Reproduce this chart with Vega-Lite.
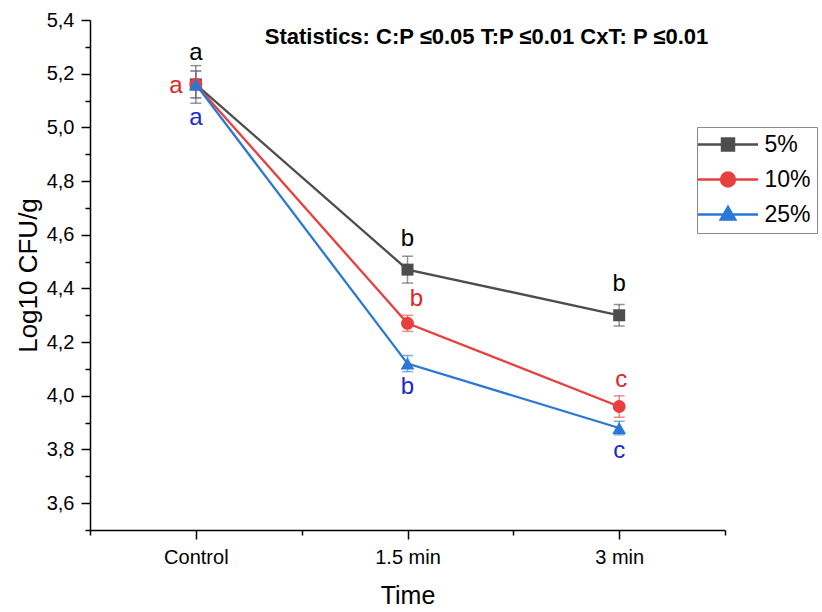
{
  "$schema": "https://vega.github.io/schema/vega-lite/v6.json",
  "width": 635,
  "height": 510,
  "autosize": {"type": "none"},
  "padding": {"left": 90, "top": 20, "right": 97, "bottom": 82},
  "background": "white",
  "config": {
    "view": {"stroke": null},
    "font": "Liberation Sans",
    "axis": {
      "domainColor": "#000000",
      "domainWidth": 1.5,
      "tickColor": "#000000",
      "tickWidth": 1.5,
      "grid": false,
      "labelFont": "Liberation Sans",
      "labelFontSize": 20,
      "labelColor": "#000000",
      "labelOverlap": false,
      "labelFlush": false,
      "titleFont": "Liberation Sans",
      "titleFontWeight": "normal",
      "titleColor": "#000000"
    }
  },
  "title": {
    "text": "Statistics: C:P ≤0.05 T:P ≤0.01 CxT: P ≤0.01",
    "anchor": "middle",
    "frame": "group",
    "dx": 79,
    "dy": 56,
    "offset": 0,
    "baseline": "alphabetic",
    "font": "Liberation Sans",
    "fontSize": 22,
    "fontWeight": "bold",
    "color": "#000000"
  },
  "data": {
    "values": [
      {"conc": "5%", "min": 0, "time": "Control", "mean": 5.16, "sd": 0.07, "letter": "a"},
      {"conc": "5%", "min": 1.5, "time": "1.5 min", "mean": 4.47, "sd": 0.05, "letter": "b"},
      {"conc": "5%", "min": 3, "time": "3 min", "mean": 4.30, "sd": 0.04, "letter": "b"},
      {"conc": "10%", "min": 0, "time": "Control", "mean": 5.16, "sd": 0.05, "letter": "a"},
      {"conc": "10%", "min": 1.5, "time": "1.5 min", "mean": 4.27, "sd": 0.03, "letter": "b"},
      {"conc": "10%", "min": 3, "time": "3 min", "mean": 3.96, "sd": 0.04, "letter": "c"},
      {"conc": "25%", "min": 0, "time": "Control", "mean": 5.16, "sd": 0.05, "letter": "a"},
      {"conc": "25%", "min": 1.5, "time": "1.5 min", "mean": 4.12, "sd": 0.03, "letter": "b"},
      {"conc": "25%", "min": 3, "time": "3 min", "mean": 3.88, "sd": 0.025, "letter": "c"}
    ]
  },
  "encoding": {
    "x": {
      "field": "min",
      "type": "quantitative",
      "scale": {"domain": [-0.75, 3.75], "nice": false, "zero": false},
      "axis": {
        "title": "Time",
        "titleFontSize": 25,
        "titlePadding": 16,
        "labelFontSize": 20,
        "values": [-0.75, 0, 0.75, 1.5, 2.25, 3, 3.75],
        "labelExpr": "datum.value == 0 ? 'Control' : datum.value == 1.5 ? '1.5 min' : datum.value == 3 ? '3 min' : ''",
        "labelPadding": 8,
        "tickSize": {"condition": {"test": "datum.value == 0 || datum.value == 1.5 || datum.value == 3", "value": 9}, "value": 5}
      }
    },
    "y": {
      "field": "mean",
      "type": "quantitative",
      "scale": {"domain": [3.5, 5.4], "nice": false, "zero": false},
      "axis": {
        "title": "Log10 CFU/g",
        "titleFontSize": 26,
        "titlePadding": 5,
        "labelFontSize": 20,
        "values": [3.5, 3.6, 3.7, 3.8, 3.9, 4.0, 4.1, 4.2, 4.3, 4.4, 4.5, 4.6, 4.7, 4.8, 4.9, 5.0, 5.1, 5.2, 5.3, 5.4],
        "labelExpr": "round(datum.value * 10) % 2 == 0 ? replace(format(datum.value, '.1f'), '.', ',') : ''",
        "labelPadding": 7,
        "tickSize": {"condition": {"test": "round(datum.value * 10) % 2 == 0", "value": 9}, "value": 5}
      }
    }
  },
  "layer": [
    {
      "mark": {"type": "errorbar", "ticks": true, "size": 11, "thickness": 1.5, "opacity": 0.6},
      "encoding": {
        "yError": {"field": "sd"},
        "color": {"field": "conc", "type": "nominal", "scale": {"domain": ["5%", "10%", "25%"], "range": ["#4d4d4d", "#e8403e", "#2a78d6"]}, "legend": null}
      }
    },
    {
      "mark": {"type": "line", "strokeWidth": 2.3},
      "encoding": {
        "color": {"field": "conc", "type": "nominal", "scale": {"domain": ["5%", "10%", "25%"], "range": ["#4d4d4d", "#e8403e", "#2a78d6"]}, "legend": null},
        "order": {"field": "min", "type": "quantitative"}
      }
    },
    {
      "mark": {"type": "point", "filled": true, "opacity": 1},
      "encoding": {
        "color": {"field": "conc", "type": "nominal", "scale": {"domain": ["5%", "10%", "25%"], "range": ["#4d4d4d", "#e8403e", "#2a78d6"]}, "legend": null},
        "shape": {"field": "conc", "type": "nominal", "scale": {"domain": ["5%", "10%", "25%"], "range": ["square", "circle", "triangle-up"]}, "legend": null},
        "size": {"field": "conc", "type": "nominal", "scale": {"domain": ["5%", "10%", "25%"], "range": [144, 190, 190]}, "legend": null}
      }
    },
    {
      "transform": [{"filter": "false"}],
      "mark": {"type": "point", "filled": true, "opacity": 1, "strokeWidth": 2.5},
      "encoding": {
        "color": {"field": "conc", "type": "nominal", "scale": {"domain": ["5%", "10%", "25%"], "range": ["#4d4d4d", "#e8403e", "#2a78d6"]},
          "legend": {"title": null, "orient": "none", "legendX": 607, "legendY": 107, "strokeColor": "#8a8a8a", "fillColor": "white", "padding": 6, "rowPadding": 10, "symbolSize": 144, "symbolStrokeWidth": 2.5, "symbolOpacity": 1, "symbolOffset": 13.5, "labelOffset": 25, "labelFontSize": 23, "labelFont": "Liberation Sans", "labelColor": "#000000", "labelLimit": 200}},
        "stroke": {"field": "conc", "type": "nominal", "scale": {"domain": ["5%", "10%", "25%"], "range": ["#4d4d4d", "#e8403e", "#2a78d6"]},
          "legend": {"title": null, "orient": "none", "legendX": 607, "legendY": 107, "strokeColor": "#8a8a8a", "fillColor": "white", "padding": 6, "rowPadding": 10, "symbolSize": 144, "symbolStrokeWidth": 2.5, "symbolOpacity": 1, "symbolOffset": 13.5, "labelOffset": 25, "labelFontSize": 23, "labelFont": "Liberation Sans", "labelColor": "#000000", "labelLimit": 200}},
        "shape": {"field": "conc", "type": "nominal", "scale": {"domain": ["5%", "10%", "25%"], "range": ["M-5,0H5M-1,-1H1V1H-1Z", "M-5,0H5M-1.15,0A1.15,1.15,0,1,0,1.15,0A1.15,1.15,0,1,0,-1.15,0Z", "M-5,0H5M0,-1.25L1.2,0.85H-1.2Z"]},
          "legend": {"title": null, "orient": "none", "legendX": 607, "legendY": 107, "strokeColor": "#8a8a8a", "fillColor": "white", "padding": 6, "rowPadding": 10, "symbolSize": 144, "symbolStrokeWidth": 2.5, "symbolOpacity": 1, "symbolOffset": 13.5, "labelOffset": 25, "labelFontSize": 23, "labelFont": "Liberation Sans", "labelColor": "#000000", "labelLimit": 200}}
      }
    },
    {
      "transform": [{"filter": "datum.conc == '5%'"}],
      "mark": {"type": "text", "dy": -24, "fontSize": 24, "font": "Liberation Sans", "color": "#000000", "baseline": "alphabetic", "align": "center"},
      "encoding": {"text": {"field": "letter"}}
    },
    {
      "transform": [{"filter": "datum.conc == '25%' && datum.min == 0"}],
      "mark": {"type": "text", "dy": 41, "fontSize": 24, "font": "Liberation Sans", "color": "#1a28cc", "baseline": "alphabetic", "align": "center"},
      "encoding": {"text": {"field": "letter"}}
    },
    {
      "transform": [{"filter": "datum.conc == '25%' && datum.min > 0"}],
      "mark": {"type": "text", "dy": 30, "fontSize": 24, "font": "Liberation Sans", "color": "#1a28cc", "baseline": "alphabetic", "align": "center"},
      "encoding": {"text": {"field": "letter"}}
    },
    {
      "transform": [{"filter": "datum.conc == '10%' && datum.min == 0"}],
      "mark": {"type": "text", "dx": -20, "dy": 9, "fontSize": 24, "font": "Liberation Sans", "color": "#e3231f", "baseline": "alphabetic", "align": "center"},
      "encoding": {"text": {"field": "letter"}}
    },
    {
      "transform": [{"filter": "datum.conc == '10%' && datum.min == 1.5"}],
      "mark": {"type": "text", "dx": 9, "dy": -17, "fontSize": 24, "font": "Liberation Sans", "color": "#e3231f", "baseline": "alphabetic", "align": "center"},
      "encoding": {"text": {"field": "letter"}}
    },
    {
      "transform": [{"filter": "datum.conc == '10%' && datum.min == 3"}],
      "mark": {"type": "text", "dx": 2, "dy": -20, "fontSize": 24, "font": "Liberation Sans", "color": "#e3231f", "baseline": "alphabetic", "align": "center"},
      "encoding": {"text": {"field": "letter"}}
    }
  ],
  "resolve": {"scale": {"color": "independent", "shape": "independent", "stroke": "independent", "size": "independent"}}
}
